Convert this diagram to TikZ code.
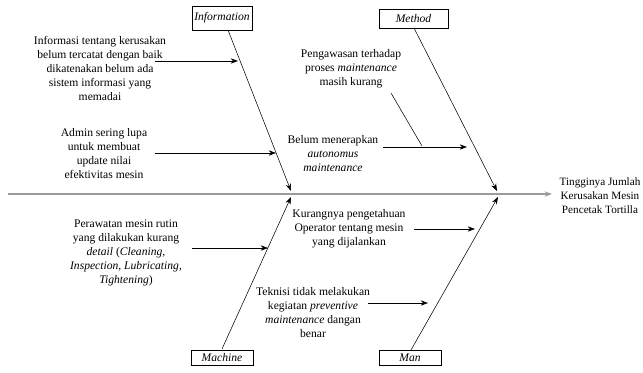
\documentclass[tikz,border=0pt]{standalone}
\usepackage{fontspec}
\setmainfont{Liberation Serif}
\usepackage{tikz}
\usetikzlibrary{arrows.meta}

\tikzset{
  causebox/.style={draw, inner sep=0pt, font=\fontsize{8.7}{10.5}\selectfont\itshape},
  causetext/.style={inner sep=0.75pt, align=center, font=\fontsize{8.7}{10.5}\selectfont},
  bone/.style={-{Stealth[length=5.5pt,width=4pt]}},
}

\begin{document}
\begin{tikzpicture}[x=0.75pt,y=0.75pt,yscale=-1,xscale=1]
\path[use as bounding box] (0,0) rectangle (643,372);

%Shape: Rectangle [id:info]
\node [causebox, minimum width=45pt, minimum height=18pt] (info) at (222,18) {Information};
%Shape: Rectangle [id:method]
\node [causebox, minimum width=51.75pt, minimum height=14.25pt] (method) at (413.5,18.5) {Method};
%Shape: Rectangle [id:machine]
\node [causebox, minimum width=46.5pt, minimum height=11.25pt] (machine) at (222,357.5) {Machine};
%Shape: Rectangle [id:man]
\node [causebox, minimum width=46.5pt, minimum height=11.25pt] (man) at (410,358) {Man};

% Text Node
\node [causetext, font=\fontsize{8.4}{10.5}\selectfont] (effect) at (600,196) {Tingginya Jumlah\\Kerusakan Mesin\\Pencetak Tortilla};

%Points on the bones
\coordinate (spineStart) at (8,194);
\coordinate (spineEnd) at (552,194);
\coordinate (infoTop) at (228,30);
\coordinate (infoEnd) at (291,191);
\coordinate (methodTop) at (414,28);
\coordinate (methodEnd) at (497,191);
\coordinate (machineBot) at (222,349);
\coordinate (machineEnd) at (291,197);
\coordinate (manBot) at (411,350);
\coordinate (manEnd) at (498,197);

%Straight Lines [id:spine]
\draw [bone, draw={rgb,255:red,155;green,155;blue,155}, line width=1.1pt] (spineStart) -- (spineEnd);
%Straight Lines [id:bones]
\draw [bone] (infoTop) -- (infoEnd);
\draw [bone] (methodTop) -- (methodEnd);
\draw [bone] (machineBot) -- (machineEnd);
\draw [bone] (manBot) -- (manEnd);

% Text Node
\node [causetext] (info1) at (100,68) {Informasi tentang kerusakan\\belum tercatat dengan baik\\dikatenakan belum ada\\sistem informasi yang\\memadai};
% Text Node
\node [causetext] (info2) at (104,154) {Admin sering lupa\\untuk membuat\\update nilai\\efektivitas mesin};
% Text Node
\node [causetext] (method1) at (351,69) {Pengawasan terhadap\\proses \textit{maintenance}\\masih kurang};
% Text Node
\node [causetext] (method2) at (333,154) {Belum menerapkan\\\textit{autonomus}\\\textit{maintenance}};
% Text Node
\node [causetext] (machine1) at (126,253) {Perawatan mesin rutin\\yang dilakukan kurang\\\textit{detail} (\textit{Cleaning,}\\\textit{Inspection, Lubricating,}\\\textit{Tightening})};
% Text Node
\node [causetext] (man1) at (349,229) {Kurangnya pengetahuan\\Operator tentang mesin\\yang dijalankan};
% Text Node
\node [causetext] (man2) at (313,313) {Teknisi tidak melakukan\\kegiatan \textit{preventive}\\\textit{maintenance} dangan\\benar};

%Sub-cause arrows
\coordinate (info1a) at (155,61);
\coordinate (info1b) at (238,61);
\coordinate (info2a) at (155,153);
\coordinate (info2b) at (276,153);
\coordinate (method2a) at (383,147);
\coordinate (method2b) at (467,147);
\coordinate (method1a) at (391,93);
\coordinate (method1b) at (422,146);
\coordinate (machine1a) at (192,248);
\coordinate (machine1b) at (268,248);
\coordinate (man1a) at (414,229);
\coordinate (man1b) at (475,229);
\coordinate (man2a) at (368,303);
\coordinate (man2b) at (428,303);

\draw [bone] (info1a) -- (info1b);
\draw [bone] (info2a) -- (info2b);
\draw [bone] (method2a) -- (method2b);
\draw (method1a) -- (method1b);
\draw [bone] (machine1a) -- (machine1b);
\draw [bone] (man1a) -- (man1b);
\draw [bone] (man2a) -- (man2b);

\end{tikzpicture}
\end{document}
